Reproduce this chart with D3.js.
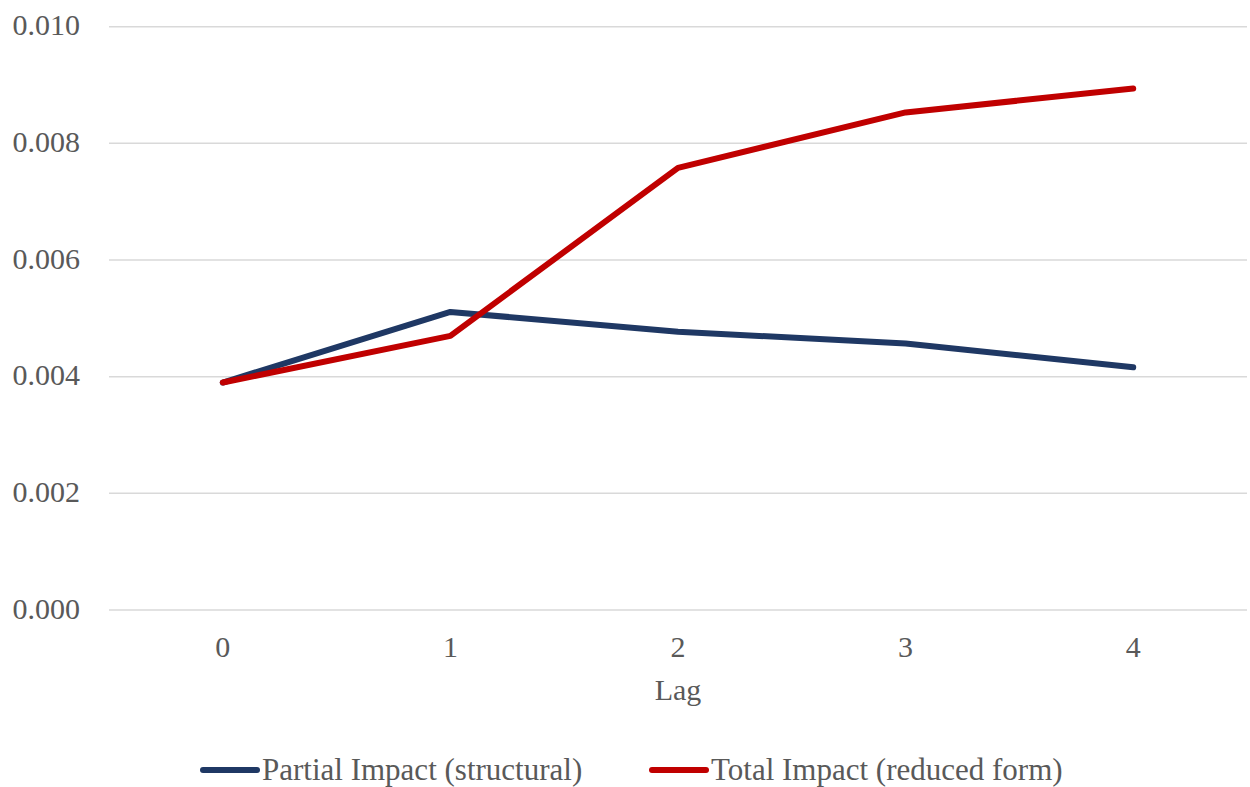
<!DOCTYPE html>
<html><head><meta charset="utf-8">
<script src="https://cdn.jsdelivr.net/npm/d3@7"></script>
<style>body{margin:0;background:#fff}svg{display:block}text{font-family:"Liberation Serif",serif;fill:#595959}</style>
</head><body><svg id="c" width="1250" height="787"></svg>
<script>
const lags = ["0","1","2","3","4"];
const partialImpact = [0.00390, 0.00511, 0.00477, 0.00457, 0.00416];
const totalImpact = [0.00390, 0.00470, 0.00758, 0.00853, 0.00894];
const yTicks = [0, 0.002, 0.004, 0.006, 0.008, 0.010];
const seriesNames = ["Partial Impact (structural)", "Total Impact (reduced form)"];
const seriesColors = ["#1F3864", "#C00000"];
const xTitle = "Lag";

const svg = d3.select("#c");
const x = d3.scaleBand().domain(lags).range([109, 1247]);
const y = d3.scaleLinear().domain([0, 0.010]).range([610, 26.7]);

// gridlines
svg.append("g").selectAll("line").data(yTicks).join("line")
  .attr("x1", 109).attr("x2", 1247)
  .attr("y1", d => y(d)).attr("y2", d => y(d))
  .attr("stroke", "#d9d9d9").attr("stroke-width", 1.5);

// y axis labels
const yAxis = d3.axisLeft(y).tickValues(yTicks).tickFormat(d3.format(".3f")).tickSize(0).tickPadding(0);
const ya = svg.append("g").attr("transform", "translate(80,0)").call(yAxis)
  .attr("font-family", null).attr("font-size", null);
ya.select(".domain").remove();
ya.selectAll("text").attr("font-size", 30).attr("dy", "0.27em").attr("fill", "#595959");

// x axis labels
const xAxis = d3.axisBottom(x).tickSize(0).tickPadding(0);
const xa = svg.append("g").attr("transform", "translate(0,657)").call(xAxis)
  .attr("font-family", null).attr("font-size", null);
xa.select(".domain").remove();
xa.selectAll("text").attr("font-size", 30).attr("dy", 0).attr("fill", "#595959");

svg.append("text").attr("x", x("2") + x.bandwidth()/2).attr("y", 700)
  .attr("text-anchor", "middle").attr("font-size", 30).text(xTitle);

const line = d3.line().x((d,i) => x(lags[i]) + x.bandwidth()/2).y(d => y(d));
[partialImpact, totalImpact].forEach((s, k) => {
  svg.append("path").datum(s).attr("d", line).attr("fill", "none")
    .attr("stroke", seriesColors[k]).attr("stroke-width", 6)
    .attr("stroke-linecap", "round").attr("stroke-linejoin", "round");
});

// legend
const legX = [203, 652];
seriesNames.forEach((n, k) => {
  const g = svg.append("g");
  g.append("line").attr("x1", legX[k]).attr("x2", legX[k] + 54).attr("y1", 770).attr("y2", 770)
    .attr("stroke", seriesColors[k]).attr("stroke-width", 6).attr("stroke-linecap", "round");
  g.append("text").attr("x", legX[k] + 59).attr("y", 780).attr("font-size", 31).text(n);
});
</script></body></html>
